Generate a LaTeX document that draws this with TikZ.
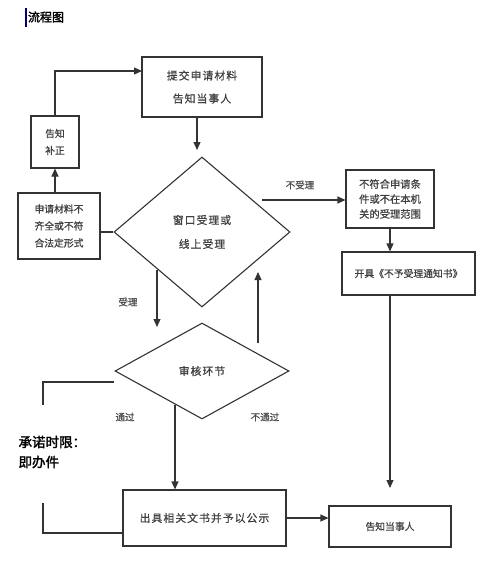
\documentclass[tikz,border=0pt]{standalone}
\usepackage{fontspec}
\setmainfont{Noto Sans CJK SC}[AutoFakeBold=2]
\newfontfamily\cjks{Noto Sans CJK SC}[FakeBold=0.8]
\newfontfamily\cjkl{Noto Sans CJK SC}[LetterSpace=10,FakeBold=0.8]
\usetikzlibrary{shapes.geometric,arrows.meta}

\begin{document}
\begin{tikzpicture}
[x=1pt,y=-1pt,inner sep=0pt,line width=1.1pt,color=black!80,
box/.style={rectangle,draw,text=black!75,font=\fontsize{9.8}{17}\cjks,align=center},
bigbox/.style={box,font=\fontsize{10.8}{23}\cjkl},
dec/.style={diamond,draw,text=black!75,font=\fontsize{10.8}{24}\cjkl,align=center},
lab/.style={text=black!70,font=\fontsize{9.5}{10}\cjks},
arr/.style={-{Triangle[length=8pt,width=7pt]}}]
\useasboundingbox (0,0) rectangle (500,578);
\draw[blue!45!black,line width=1.5pt] (26,8) -- (26,27);
\node (title) at (46,17) [text=black,font=\fontsize{12}{14}\selectfont\bfseries] {流程图};
\node (submit) at (202,87) [bigbox,minimum width=120pt,minimum height=60pt] {提交申请材料\\告知当事人};
\node (tellfix) at (55,142) [box,minimum width=48pt,minimum height=52pt] {告知\\补正};
\node (lack) at (59,226) [box,minimum width=82pt,minimum height=66pt] {申请材料不\\齐全或不符\\合法定形式};
\node (accept) at (202,232) [dec,minimum width=176pt,minimum height=150pt] {窗口受理或\\线上受理};
\node (nofit) at (390,199) [box,font=\fontsize{10.3}{15}\cjks,minimum width=88pt,minimum height=58pt] {不符合申请条\\件或不在本机\\关的受理范围};
\node (notice) at (408.5,273.5) [box,minimum width=133pt,minimum height=43pt] {开具《不予受理通知书》};
\node (check) at (202,371) [dec,minimum width=174pt,minimum height=96pt] {审核环节};
\node (issue) at (204.5,518) [bigbox,minimum width=163pt,minimum height=56pt] {出具相关文书并予以公示};
\node (tellend) at (390,526.5) [box,minimum width=122pt,minimum height=41pt] {告知当事人};
\node (l1) at (300,185) [lab] {不受理};
\node (l2) at (128,302) [lab] {受理};
\node (l3) at (125,417) [lab] {通过};
\node (l4) at (265,417) [lab] {不通过};
\node (limit) at (18,452) [anchor=west,align=left,text=black,font=\fontsize{13.5}{20}\selectfont\bfseries] {承诺时限：\\即办件};
\coordinate (a1) at (197,150);
\coordinate (a2) at (142,71);
\coordinate (a3) at (262,200);
\coordinate (a4) at (390,488);
\coordinate (a5) at (157,327);
\coordinate (a6) at (258,343);
\coordinate (a7) at (258,272);
\coordinate (a8) at (175,405);
\coordinate (a9) at (114,382);
\coordinate (a10) at (43,405);
\coordinate (a11) at (43,503);
\coordinate (a12) at (123,533);
\draw[arr] (submit.south -| a1) -- (a1);
\draw[arr] (lack.north -| tellfix) -- (tellfix.south);
\draw[arr] (tellfix.north) |- (a2);
\draw (accept.west) -- (accept.west -| lack.east);
\draw[arr] (a3) -- (a3 -| nofit.west);
\draw[arr] (nofit.south) -- (nofit.south |- notice.north);
\draw[arr] (notice.south -| tellend) -- (a4);
\draw[arr] (a5 |- accept.south west) -- (a5);
\draw[arr] (a6) -- (a7);
\draw[arr] (a8) -- (a8 |- issue.north);
\draw[arr] (issue.east) -- (issue.east -| tellend.west);
\draw (a9) -| (a10);
\draw (a11) |- (a12);
\end{tikzpicture}
\end{document}
